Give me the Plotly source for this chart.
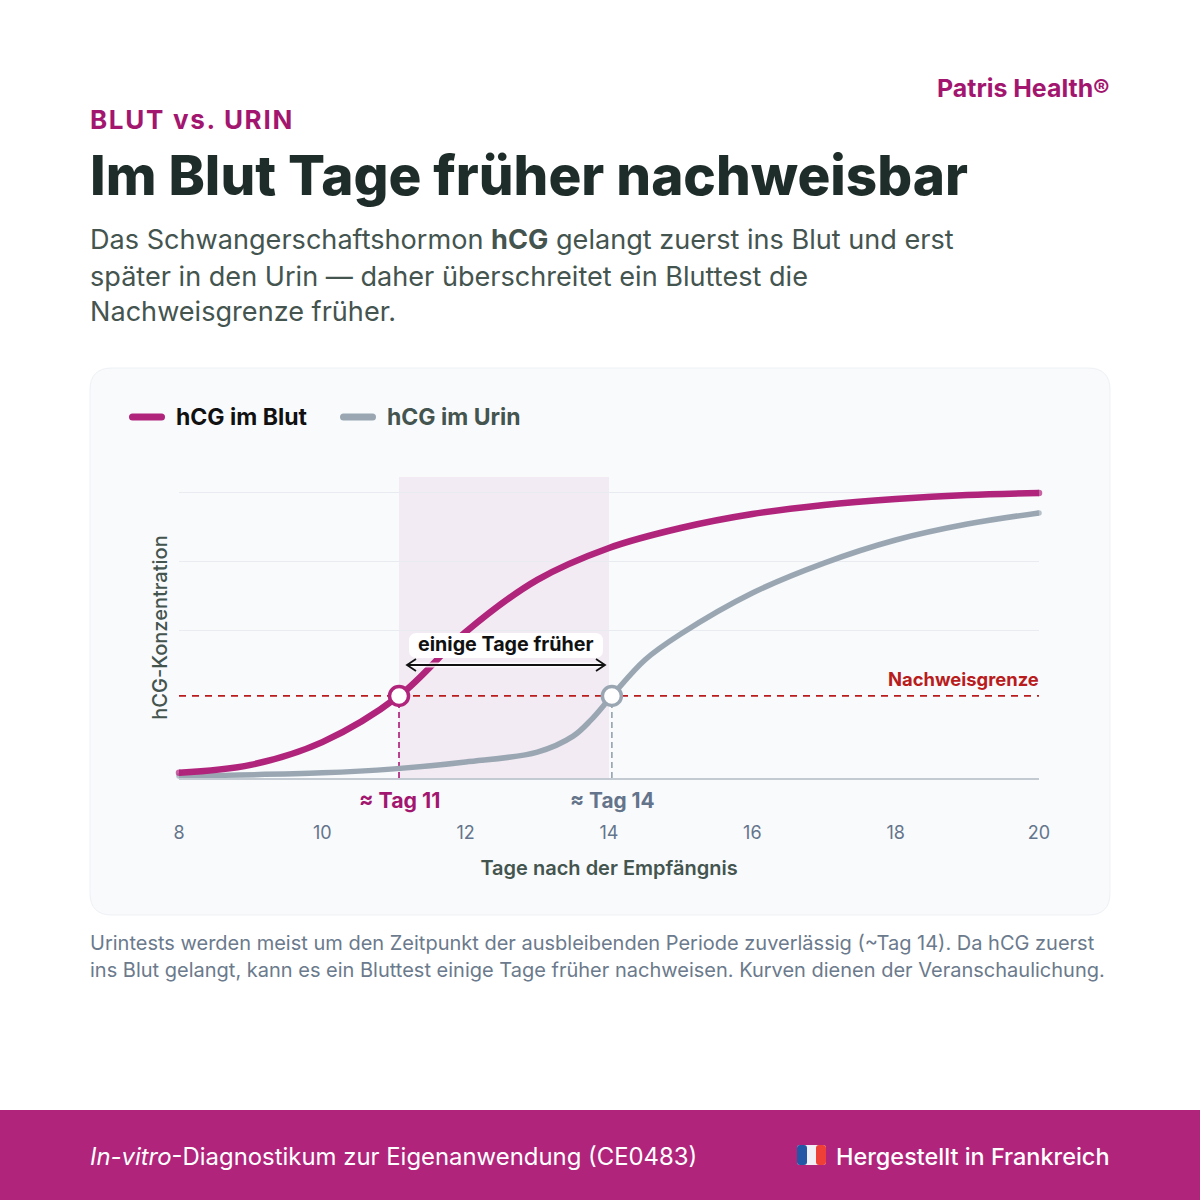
import plotly.graph_objects as go

# values
days_blood = [8, 9, 10, 11.07, 12, 13, 14, 15, 16, 17, 18, 19, 20]
hcg_blood = [1.8, 4.6, 12.6, 28.8, 51.2, 69.5, 80.7, 87.7, 92.6, 95.8, 97.9, 99.3, 100]
days_urine = [8, 10, 11, 12, 13, 13.5, 13.75, 14.04, 14.5, 15, 16, 17, 18, 19, 20]
hcg_urine = [0.7, 1.8, 3.2, 5.6, 9.1, 14.7, 20.4, 28.8, 41.4, 50.5, 64.9, 75.4, 83.5, 89.1, 93]
x_ticks = [8, 10, 12, 14, 16, 18, 20]
grid_vals = [51.6, 75.8, 100]
limit_val = 28.8
day_blood_hit = 11.07
day_urine_hit = 14.04
window_days = [11.07, 14.0]

MAGENTA = "#b0247c"
MAGENTA_DARK = "#a3166f"
GREY = "#9aa7b3"
SLATE = "#64748b"
DARK = "#1f2d2a"
MID = "#44544f"
RED = "#b91c1c"
FONT = "Inter"
W = 1200


def px(x):
    return x / W


def py(y):
    return 1 - y / W


def rounded(x0, y0, x1, y1, r):
    # rounded box in page pixels, as a paper-referenced svg path
    pts = [
        f"M{px(x0 + r)},{py(y0)}", f"L{px(x1 - r)},{py(y0)}", f"Q{px(x1)},{py(y0)} {px(x1)},{py(y0 + r)}",
        f"L{px(x1)},{py(y1 - r)}", f"Q{px(x1)},{py(y1)} {px(x1 - r)},{py(y1)}",
        f"L{px(x0 + r)},{py(y1)}", f"Q{px(x0)},{py(y1)} {px(x0)},{py(y1 - r)}",
        f"L{px(x0)},{py(y0 + r)}", f"Q{px(x0)},{py(y0)} {px(x0 + r)},{py(y0)}", "Z",
    ]
    return " ".join(pts)


def box(x0, y0, x1, y1, r, fill, line=None, layer="below"):
    return dict(type="path", xref="paper", yref="paper", path=rounded(x0, y0, x1, y1, r),
                fillcolor=fill, line=dict(color=line or fill, width=1 if line else 0), layer=layer)


def note(text, x, y, size, color, anchor="left", weight=400):
    return dict(text=text, xref="paper", yref="paper", x=px(x), y=py(y), xanchor=anchor, yanchor="middle",
                showarrow=False, borderpad=0, borderwidth=0,
                font=dict(family=FONT, size=size, color=color, weight=weight))


def ends_only(values, size):
    return [size if i in (0, len(values) - 1) else 0 for i in range(len(values))]


fig = go.Figure()
fig.add_trace(go.Scatter(x=days_urine, y=hcg_urine, mode="lines+markers", cliponaxis=False,
                         line=dict(color=GREY, width=5.5, shape="spline", smoothing=1),
                         marker=dict(color=GREY, size=ends_only(hcg_urine, 5.5), line=dict(width=0))))
fig.add_trace(go.Scatter(x=days_blood, y=hcg_blood, mode="lines+markers", cliponaxis=False,
                         line=dict(color=MAGENTA, width=6.5, shape="spline", smoothing=1),
                         marker=dict(color=MAGENTA, size=ends_only(hcg_blood, 6.5), line=dict(width=0))))
fig.add_trace(go.Scatter(x=[day_blood_hit], y=[limit_val], mode="markers", cliponaxis=False,
                         marker=dict(color="white", size=19, line=dict(color=MAGENTA, width=3.5))))
fig.add_trace(go.Scatter(x=[day_urine_hit], y=[limit_val], mode="markers", cliponaxis=False,
                         marker=dict(color="white", size=19, line=dict(color=GREY, width=3.5))))

shapes = [
    box(90, 368, 1110, 915, 22, "#f8fafc", "#eef1f5"),
    dict(type="rect", xref="paper", yref="paper", x0=0, x1=1, y0=0, y1=py(1110), fillcolor=MAGENTA, line=dict(width=0), layer="below"),
    # window between the two crossings
    dict(type="rect", xref="x", yref="y", x0=window_days[0], x1=window_days[1], y0=0, y1=105.6,
         fillcolor="rgba(176,36,124,0.07)", line=dict(width=0), layer="below"),
    dict(type="line", xref="x", yref="y", x0=8, x1=20, y0=limit_val, y1=limit_val,
         line=dict(color=RED, width=1.7, dash="7px 6px"), layer="below"),
    dict(type="line", xref="x", yref="y", x0=day_blood_hit, x1=day_blood_hit, y0=0, y1=limit_val,
         line=dict(color=MAGENTA, width=1.7, dash="6px 4px"), layer="below"),
    dict(type="line", xref="x", yref="y", x0=day_urine_hit, x1=day_urine_hit, y0=0, y1=limit_val,
         line=dict(color=GREY, width=1.7, dash="6px 4px"), layer="below"),
    # legend swatches
    box(129, 413.5, 165, 420.5, 3.5, MAGENTA),
    box(340, 413.5, 376, 420.5, 3.5, GREY),
    # label box and double arrow
    box(409, 633, 603, 658, 8, "white", layer="above"),
    dict(type="line", xref="paper", yref="paper", x0=px(408), x1=px(604), y0=py(665), y1=py(665),
         line=dict(color="rgba(255,255,255,0.8)", width=5), layer="above"),
    dict(type="path", xref="paper", yref="paper", layer="above", line=dict(color="#111111", width=1.8),
         path=f"M{px(416)},{py(659)} L{px(407)},{py(665)} L{px(416)},{py(671)} M{px(407)},{py(665)} L{px(605)},{py(665)} "
              f"M{px(596)},{py(659)} L{px(605)},{py(665)} L{px(596)},{py(671)}"),
    # flag
    box(797, 1145, 826, 1165, 3, "#f1f0f7"),
    box(797, 1145, 807, 1165, 3, "#2456a6"),
    box(816, 1145, 826, 1165, 3, "#ee4036"),
]

annotations = [
    note("Patris Health®", 1110, 88, 24.9, MAGENTA_DARK, "right", 700),
    # x is moved right by half the letter spacing that the script below adds
    note("BLUT vs. URIN", 101, 120, 26, MAGENTA_DARK, "left", 700),
    note("Im Blut Tage früher nachweisbar", 90, 175, 54.8, DARK, "left", 800),
    note("Das Schwangerschaftshormon <b>hCG</b> gelangt zuerst ins Blut und erst", 90, 239, 27.1, MID),
    note("später in den Urin — daher überschreitet ein Bluttest die", 90, 276, 27.1, MID),
    note("Nachweisgrenze früher.", 90, 311, 27.1, MID),
    note("hCG im Blut", 176, 417, 23, "#111111", "left", 700),
    note("hCG im Urin", 387, 417, 23, MID, "left", 700),
    note("einige Tage früher", 505.5, 644, 19.7, "#111111", "center", 700),
    note("Nachweisgrenze", 1039, 679, 18.4, RED, "right", 700),
    note("≈ Tag 11", 399, 800, 21.3, MAGENTA_DARK, "center", 700),
    note("≈ Tag 14", 612, 800, 20.8, SLATE, "center", 700),
    note("Urintests werden meist um den Zeitpunkt der ausbleibenden Periode zuverlässig (~Tag 14). Da hCG zuerst", 90, 943, 20, "#6b7a8c"),
    note("ins Blut gelangt, kann es ein Bluttest einige Tage früher nachweisen. Kurven dienen der Veranschaulichung.", 90, 970, 20, "#6b7a8c"),
    note("<i>In-vitro</i>-Diagnostikum zur Eigenanwendung (CE0483)", 90, 1156, 23.9, "white"),
    note("Hergestellt in Frankreich", 1110, 1156, 23.45, "white", "right", 500),
]

fig.update_layout(
    width=1200, height=1200, margin=dict(l=0, r=0, t=0, b=0), showlegend=False,
    paper_bgcolor="white", plot_bgcolor="rgba(0,0,0,0)", shapes=shapes, annotations=annotations,
    xaxis=dict(domain=[px(179), px(1039)], range=[8, 20], tickvals=x_ticks, showgrid=False, zeroline=False, automargin=False,
               showline=True, linecolor="#c4cad2", linewidth=1.5, ticks="outside", ticklen=38, tickcolor="rgba(0,0,0,0)",
               tickfont=dict(family=FONT, size=18, color=SLATE),
               title=dict(text="Tage nach der Empfängnis", standoff=19,
                          font=dict(family=FONT, size=20, color=MID, weight=600))),
    yaxis=dict(domain=[py(778), py(477)], range=[0, 105.6], tickvals=grid_vals, showticklabels=False, automargin=False,
               gridcolor="#e8ebef", gridwidth=1, zeroline=False, showline=False,
               title=dict(text="hCG-Konzentration", standoff=5,
                          font=dict(family=FONT, size=20, color=MID, weight=500))),
)

# letter spacing on the kicker line has no plotly option
spacing = """
document.body.style.margin='0';
document.querySelectorAll('.annotation-text').forEach(function (t) {
    if (t.textContent.indexOf('BLUT vs') === 0) { t.style.letterSpacing = '1.7px'; }
});
"""
fig.write_html("out.html", post_script=spacing, config=dict(displayModeBar=False))
